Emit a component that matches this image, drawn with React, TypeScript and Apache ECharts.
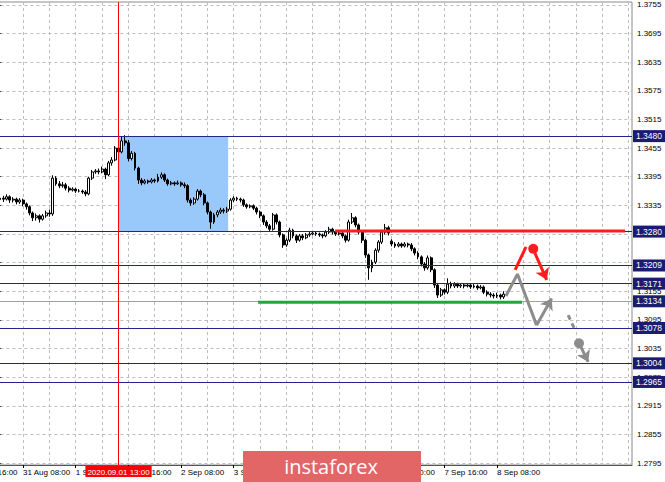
import React, { useEffect, useRef } from 'react';
import * as echarts from 'echarts';

// ---- price axis ----
const yTicks = [1.2795, 1.2855, 1.2915, 1.2975, 1.3035, 1.3095, 1.3155, 1.3215, 1.3275, 1.3335, 1.3395, 1.3455, 1.3515, 1.3575, 1.3635, 1.3695, 1.3755];
const yMin = 1.2791;
const yMax = 1.3761;

// ---- horizontal levels ----
const levels = [1.3480, 1.3280, 1.3209, 1.3171, 1.3078, 1.3004, 1.2965];
const lightLevel = 1.3134;

// ---- time axis (bar numbers, H1, 31 Aug 00:00 = bar 0) ----
const firstBar = -8;
const lastBar = 193;
const xTickBars = [-8, 8, 24, 40, 56, 72, 88, 104, 120, 136, 152];
const xTickLabels = ['28 Aug 16:00', '31 Aug 08:00', '1 Sep 00:00', '1 Sep 16:00', '2 Sep 08:00', '3 Sep 00:00', '3 Sep 16:00', '4 Sep 08:00', '7 Sep 00:00', '7 Sep 16:00', '8 Sep 08:00'];
const startBar = 1; // first candle bar number

// ---- candles [open, close, low, high] ----
const aug31 = [
  [1.3347, 1.3350, 1.3343, 1.3356], [1.3350, 1.3348, 1.3342, 1.3355], [1.3348, 1.3353, 1.3345, 1.3358], [1.3353, 1.3346, 1.3340, 1.3356],
  [1.3346, 1.3348, 1.3341, 1.3352], [1.3348, 1.3342, 1.3337, 1.3351], [1.3342, 1.3346, 1.3338, 1.3350], [1.3346, 1.3338, 1.3333, 1.3349],
  [1.3338, 1.3332, 1.3326, 1.3341], [1.3332, 1.3319, 1.3314, 1.3335], [1.3319, 1.3309, 1.3302, 1.3322], [1.3309, 1.3313, 1.3303, 1.3318],
  [1.3313, 1.3306, 1.3299, 1.3316], [1.3306, 1.3313, 1.3303, 1.3317], [1.3313, 1.3319, 1.3309, 1.3324], [1.3319, 1.3317, 1.3311, 1.3326],
  [1.3317, 1.3392, 1.3313, 1.3398], [1.3392, 1.3380, 1.3376, 1.3396], [1.3380, 1.3376, 1.3371, 1.3386], [1.3376, 1.3378, 1.3372, 1.3384],
  [1.3378, 1.3371, 1.3366, 1.3382], [1.3371, 1.3367, 1.3362, 1.3375], [1.3367, 1.3369, 1.3364, 1.3373],
];
const sep1 = [
  [1.3369, 1.3365, 1.3361, 1.3372], [1.3365, 1.3365, 1.3362, 1.3369], [1.3365, 1.3363, 1.3359, 1.3368], [1.3363, 1.3359, 1.3354, 1.3367],
  [1.3359, 1.3392, 1.3356, 1.3395], [1.3392, 1.3405, 1.3388, 1.3409], [1.3405, 1.3407, 1.3401, 1.3411], [1.3407, 1.3405, 1.3400, 1.3412],
  [1.3405, 1.3411, 1.3402, 1.3416], [1.3411, 1.3399, 1.3390, 1.3414], [1.3399, 1.3424, 1.3396, 1.3428], [1.3424, 1.3430, 1.3418, 1.3436],
  [1.3430, 1.3455, 1.3427, 1.3459], [1.3455, 1.3447, 1.3443, 1.3462], [1.3447, 1.3470, 1.3444, 1.3478], [1.3470, 1.3466, 1.3460, 1.3482],
  [1.3466, 1.3433, 1.3427, 1.3472], [1.3433, 1.3444, 1.3429, 1.3449], [1.3444, 1.3413, 1.3408, 1.3447], [1.3413, 1.3388, 1.3380, 1.3416],
  [1.3388, 1.3382, 1.3377, 1.3392], [1.3382, 1.3386, 1.3379, 1.3390], [1.3386, 1.3384, 1.3380, 1.3389], [1.3384, 1.3388, 1.3381, 1.3392],
];
const sep2 = [
  [1.3388, 1.3386, 1.3382, 1.3391], [1.3386, 1.3394, 1.3383, 1.3401], [1.3394, 1.3399, 1.3390, 1.3404], [1.3399, 1.3388, 1.3384, 1.3402],
  [1.3388, 1.3380, 1.3376, 1.3391], [1.3380, 1.3382, 1.3377, 1.3386], [1.3382, 1.3380, 1.3376, 1.3385], [1.3380, 1.3382, 1.3378, 1.3387],
  [1.3382, 1.3378, 1.3374, 1.3385], [1.3378, 1.3376, 1.3371, 1.3383], [1.3376, 1.3346, 1.3341, 1.3379], [1.3346, 1.3340, 1.3334, 1.3350],
  [1.3340, 1.3348, 1.3336, 1.3352], [1.3348, 1.3365, 1.3345, 1.3369], [1.3365, 1.3357, 1.3352, 1.3368], [1.3357, 1.3340, 1.3335, 1.3361],
  [1.3340, 1.3321, 1.3316, 1.3343], [1.3321, 1.3300, 1.3286, 1.3324], [1.3300, 1.3315, 1.3296, 1.3319], [1.3315, 1.3321, 1.3310, 1.3325],
  [1.3321, 1.3325, 1.3317, 1.3330], [1.3325, 1.3323, 1.3318, 1.3329], [1.3323, 1.3327, 1.3319, 1.3332], [1.3327, 1.3346, 1.3324, 1.3350],
];
const sep3 = [
  [1.3346, 1.3350, 1.3342, 1.3354], [1.3350, 1.3348, 1.3344, 1.3353], [1.3348, 1.3346, 1.3341, 1.3351], [1.3346, 1.3336, 1.3332, 1.3349],
  [1.3336, 1.3332, 1.3328, 1.3339], [1.3332, 1.3334, 1.3329, 1.3337], [1.3334, 1.3329, 1.3325, 1.3337], [1.3329, 1.3321, 1.3316, 1.3332],
  [1.3321, 1.3313, 1.3308, 1.3324], [1.3313, 1.3300, 1.3294, 1.3316], [1.3300, 1.3292, 1.3287, 1.3304], [1.3292, 1.3285, 1.3280, 1.3296],
  [1.3285, 1.3315, 1.3282, 1.3319], [1.3315, 1.3300, 1.3295, 1.3318], [1.3300, 1.3273, 1.3268, 1.3303], [1.3273, 1.3252, 1.3246, 1.3276],
  [1.3252, 1.3262, 1.3248, 1.3266], [1.3262, 1.3283, 1.3258, 1.3288], [1.3283, 1.3271, 1.3266, 1.3286], [1.3271, 1.3262, 1.3256, 1.3274],
  [1.3262, 1.3271, 1.3259, 1.3275], [1.3271, 1.3267, 1.3262, 1.3275], [1.3267, 1.3273, 1.3264, 1.3277], [1.3273, 1.3275, 1.3269, 1.3279],
];
const sep4 = [
  [1.3275, 1.3277, 1.3272, 1.3281], [1.3277, 1.3275, 1.3271, 1.3280], [1.3275, 1.3273, 1.3269, 1.3278], [1.3273, 1.3271, 1.3266, 1.3276],
  [1.3271, 1.3279, 1.3268, 1.3283], [1.3279, 1.3285, 1.3275, 1.3290], [1.3285, 1.3279, 1.3274, 1.3288], [1.3279, 1.3275, 1.3271, 1.3282],
  [1.3275, 1.3277, 1.3272, 1.3281], [1.3277, 1.3271, 1.3266, 1.3280], [1.3271, 1.3262, 1.3257, 1.3274], [1.3262, 1.3300, 1.3259, 1.3305],
  [1.3300, 1.3309, 1.3296, 1.3319], [1.3309, 1.3294, 1.3289, 1.3312], [1.3294, 1.3279, 1.3274, 1.3297], [1.3279, 1.3262, 1.3256, 1.3282],
  [1.3262, 1.3231, 1.3225, 1.3265], [1.3231, 1.3204, 1.3179, 1.3234], [1.3204, 1.3216, 1.3195, 1.3221], [1.3216, 1.3241, 1.3212, 1.3245],
  [1.3241, 1.3258, 1.3236, 1.3262], [1.3258, 1.3279, 1.3254, 1.3284], [1.3279, 1.3288, 1.3274, 1.3296], [1.3288, 1.3277, 1.3272, 1.3292],
];
const sep7 = [
  [1.3260, 1.3254, 1.3249, 1.3264], [1.3254, 1.3250, 1.3246, 1.3258], [1.3250, 1.3254, 1.3247, 1.3258], [1.3254, 1.3250, 1.3246, 1.3257],
  [1.3250, 1.3254, 1.3247, 1.3258], [1.3254, 1.3252, 1.3247, 1.3257], [1.3252, 1.3244, 1.3239, 1.3256], [1.3244, 1.3235, 1.3230, 1.3247],
  [1.3235, 1.3227, 1.3222, 1.3239], [1.3227, 1.3212, 1.3207, 1.3230], [1.3212, 1.3204, 1.3198, 1.3216], [1.3204, 1.3225, 1.3200, 1.3230],
  [1.3225, 1.3200, 1.3195, 1.3228], [1.3200, 1.3168, 1.3162, 1.3203], [1.3168, 1.3147, 1.3141, 1.3172], [1.3147, 1.3158, 1.3143, 1.3162],
  [1.3158, 1.3153, 1.3148, 1.3161], [1.3153, 1.3170, 1.3149, 1.3182], [1.3170, 1.3166, 1.3161, 1.3175], [1.3166, 1.3170, 1.3162, 1.3174],
  [1.3170, 1.3166, 1.3162, 1.3173], [1.3166, 1.3168, 1.3162, 1.3172], [1.3168, 1.3166, 1.3161, 1.3171], [1.3166, 1.3168, 1.3163, 1.3172],
];
const sep8 = [
  [1.3168, 1.3164, 1.3160, 1.3171], [1.3164, 1.3166, 1.3161, 1.3170], [1.3166, 1.3162, 1.3158, 1.3169], [1.3162, 1.3164, 1.3159, 1.3168],
  [1.3164, 1.3153, 1.3149, 1.3167], [1.3153, 1.3149, 1.3144, 1.3157], [1.3149, 1.3147, 1.3142, 1.3153], [1.3147, 1.3145, 1.3140, 1.3151],
  [1.3145, 1.3147, 1.3141, 1.3152], [1.3147, 1.3143, 1.3138, 1.3150], [1.3143, 1.3149, 1.3139, 1.3155],
];

// ---- drawn objects (bar number, price) ----
const zoneBox = [[37, 1.3480], [70.3, 1.3280]];
const cursorBar = 37;
const cursorLabel = '2020.09.01 13:00';
const redLevel = [[102.8, 1.3281], [190.9, 1.3281]];
const greenLevel = [[79.4, 1.3132], [159.6, 1.3132]];
const redUp = [[157.5, 1.3200], [160.8, 1.3248]];
const redDot = [[163.0, 1.3244]];
const redArrow = [[163.5, 1.3235], [167.1, 1.3179]];
const greyZig = [[154.7, 1.3145], [158.2, 1.3191], [164.0, 1.3084]];
const greyArrow1 = [[164.0, 1.3084], [168.6, 1.3140]];
const greyDash = [[173.6, 1.3105], [175.7, 1.3074]];
const greyDot = [[176.9, 1.3046]];
const greyArrow2 = [[177.5, 1.3038], [179.7, 1.3007]];

const FONT = '"Liberation Sans", Arial, sans-serif';
const NAVY = '#24248e';
const NAVY_BOX = '#1b1b6f';
const RED = '#ff1c1c';
const GREY = '#8c8c8c';

export default function App() {
  const ref = useRef<HTMLDivElement>(null);
  useEffect(() => {
    if (!ref.current) return;
    const chart = echarts.init(ref.current, null, { renderer: 'svg' });
    const candles = [...aug31, ...sep1, ...sep2, ...sep3, ...sep4, ...sep7, ...sep8];
    const cats: string[] = [];
    for (let b = firstBar; b <= lastBar; b++) {
      const k = xTickBars.indexOf(b);
      cats.push(k >= 0 ? xTickLabels[k] : String(b));
    }
    const candleData: any[] = cats.map(() => '-');
    candles.forEach((c, k) => { candleData[startBar - firstBar + k] = c; });
    const tickSet = new Set(xTickBars.map((b) => b - firstBar));
    const isTick = (idx: number) => tickSet.has(idx);
    const isGrid = (idx: number) => (idx + firstBar) % 8 === 0;

    const lvlLine = (v: number, color: string) => ({
      yAxis: v,
      lineStyle: { color, width: 1, type: 'solid' },
      label: {
        show: true, position: 'end', distance: 1, formatter: v.toFixed(4),
        color: '#fff', backgroundColor: NAVY_BOX, padding: [1, 3, 0, 3],
        fontFamily: FONT, fontSize: 8.5, lineHeight: 11,
      },
    });

    chart.setOption({
      animation: false,
      backgroundColor: '#ffffff',
      grid: {
        left: -29.6, right: 33, top: 2, bottom: 17, show: true, borderColor: '#8a8a8a', borderWidth: 1,
        containLabel: false, outerBoundsMode: 'none',
      },
      xAxis: [
        {
          type: 'category', data: cats, boundaryGap: false,
          axisLine: { show: true, lineStyle: { color: '#555', width: 1 } },
          axisTick: { show: true, interval: isTick, length: 3, lineStyle: { color: '#000' } },
          axisLabel: {
            interval: isTick, align: 'left', margin: 3, color: '#000', fontFamily: FONT, fontSize: 8,
            formatter: (v: string) => (xTickLabels.indexOf(v) >= 0 ? v : ''),
          },
          splitLine: { show: true, interval: isGrid, lineStyle: { color: '#bdbdbd', type: [3, 3], width: 1 } },
        },
        { type: 'value', min: firstBar, max: lastBar, show: false },
      ],
      yAxis: {
        type: 'value', position: 'right', min: yMin, max: yMax, scale: true,
        axisLine: { show: true, lineStyle: { color: '#000', width: 1 } },
        axisTick: { show: true, customValues: yTicks, length: 4, lineStyle: { color: '#000' } },
        axisLabel: { customValues: yTicks, margin: 5, color: '#000', fontFamily: FONT, fontSize: 8, formatter: (v: number) => v.toFixed(4) },
        splitLine: { show: true, lineStyle: { color: '#bdbdbd', type: [3, 3], width: 1 } },
      },
      series: [
        {
          type: 'line', xAxisIndex: 1, data: [], z: 1, silent: true,
          markArea: {
            silent: true, itemStyle: { color: '#99c9fb', opacity: 1 },
            data: [[{ coord: zoneBox[0] }, { coord: zoneBox[1] }]],
          },
        },
        {
          type: 'line', xAxisIndex: 1, data: [], z: 3, silent: true,
          markLine: {
            silent: true, symbol: 'none', precision: 6,
            data: [...levels.map((v) => lvlLine(v, NAVY)), lvlLine(lightLevel, '#9a9ad2')],
          },
        },
        {
          type: 'candlestick', xAxisIndex: 0, data: candleData, z: 4, barWidth: 2.4,
          itemStyle: { color: '#ffffff', color0: '#000000', borderColor: '#000000', borderColor0: '#000000', borderColorDoji: '#000000', borderWidth: 1 },
        },
        { type: 'line', xAxisIndex: 1, data: redLevel, z: 6, symbol: 'none', lineStyle: { color: RED, width: 3 } },
        { type: 'line', xAxisIndex: 1, data: greenLevel, z: 6, symbol: 'none', lineStyle: { color: '#1fa83a', width: 3 } },
        {
          type: 'line', xAxisIndex: 1, data: [], z: 7, silent: true,
          markLine: {
            silent: true, symbol: 'none', precision: 6,
            lineStyle: { color: '#ff0000', width: 1, type: 'solid' },
            label: {
              show: true, position: 'start', distance: 1, formatter: cursorLabel, color: '#fff',
              backgroundColor: '#ff0000', padding: [2, 2, 1, 2], fontFamily: FONT, fontSize: 8,
            },
            data: [{ xAxis: cursorBar }],
          },
        },
        { type: 'line', xAxisIndex: 1, data: greyZig, z: 8, symbol: 'none', lineStyle: { color: GREY, width: 3 } },
        { type: 'line', xAxisIndex: 1, data: greyDash, z: 8, symbol: 'none', lineStyle: { color: GREY, width: 3, type: [5, 4] } },
        { type: 'line', xAxisIndex: 1, data: redUp, z: 8, symbol: 'none', lineStyle: { color: RED, width: 3 } },
        { type: 'scatter', xAxisIndex: 1, data: redDot, z: 8, symbolSize: 10, itemStyle: { color: RED, opacity: 1 } },
        { type: 'scatter', xAxisIndex: 1, data: greyDot, z: 8, symbolSize: 10, itemStyle: { color: GREY, opacity: 1 } },
        {
          type: 'lines', coordinateSystem: 'cartesian2d', xAxisIndex: 1, z: 8,
          symbol: ['none', 'arrow'], symbolSize: 11,
          lineStyle: { opacity: 1, width: 3 },
          data: [
            { coords: redArrow, lineStyle: { color: RED, width: 3, opacity: 1 } },
            { coords: greyArrow1, lineStyle: { color: GREY, width: 3, opacity: 1 } },
            { coords: greyArrow2, lineStyle: { color: GREY, width: 3, opacity: 1 } },
          ],
        },
      ],
      graphic: {
        zlevel: 5,
        elements: [
          {
            type: 'rect', left: 243, top: 451, z: 100, zlevel: 5,
            shape: { width: 178, height: 31 }, style: { fill: '#e26666' },
          },
          {
            type: 'text', x: 331, y: 466, z: 101, zlevel: 5,
            style: {
              text: 'instaforex', fill: '#ffffff', font: '20px "Open Sans", Roboto, sans-serif',
              textAlign: 'center', textVerticalAlign: 'middle',
            },
          },
        ],
      },
    });
    return () => chart.dispose();
  }, []);
  return <div ref={ref} style={{ position: 'absolute', left: 0, top: 0, width: 665, height: 482 }} />;
}
